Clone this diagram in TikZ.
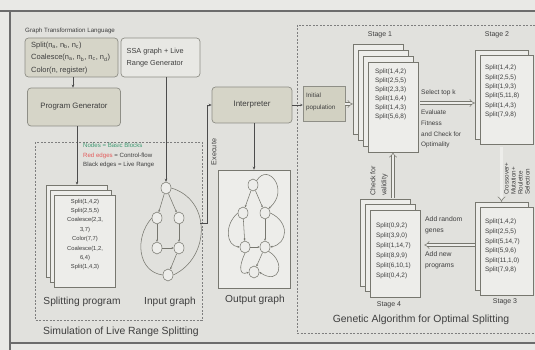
\documentclass[tikz,border=0pt]{standalone}
\usepackage{fontspec}
\setmainfont{Liberation Sans}
\usetikzlibrary{arrows.meta,shapes.geometric}
\definecolor{bgout}{HTML}{E9E9E6}
\definecolor{bgin}{HTML}{E1E1DD}
\definecolor{boxfill}{HTML}{D6D5C8}
\definecolor{boxline}{HTML}{8E8E86}
\definecolor{ssafill}{HTML}{E8E8E4}
\definecolor{initfill}{HTML}{D2D1C2}
\definecolor{pagefill}{HTML}{EDEDEA}
\definecolor{pageline}{HTML}{77776F}
\definecolor{txt}{HTML}{3E3E3E}
\definecolor{wirec}{HTML}{4C4C4C}
\definecolor{dashc}{HTML}{7E7E7E}
\definecolor{framec}{HTML}{6C6C6C}
\definecolor{greentxt}{HTML}{3E9A72}
\definecolor{redtxt}{HTML}{E35A5A}
\begin{document}
\begin{tikzpicture}[x=1pt,y=-1pt,
  gbox/.style={draw=boxline, fill=boxfill, rounded corners=3.5pt, line width=0.7pt, text=txt, inner sep=0pt},
  page/.style={draw=pageline, fill=pagefill, line width=0.5pt, inner sep=0pt},
  wire/.style={draw=wirec, line width=0.7pt},
  arr/.style={wire, -{Stealth[length=3pt,width=2.6pt]}},
  fat/.style={draw=pageline, line width=0.5pt, double=pagefill, double distance=2.2pt, -{Implies}},
  gnode/.style={ellipse, draw=pageline, fill=pagefill, line width=0.5pt, minimum width=10pt, minimum height=12pt, inner sep=0pt},
  gedge/.style={draw=pageline, line width=0.55pt},
  garr/.style={gedge, -{Stealth[length=2.2pt,width=2pt]}},
  lab/.style={text=txt, inner sep=0pt},
  dbox/.style={draw=dashc, line width=0.6pt, dash pattern=on 2pt off 1.5pt},
  stf/.style={font=\fontsize{6.4}{9}\selectfont},
  bigf/.style={font=\fontsize{10.2}{11}\selectfont}
]
\useasboundingbox (0,0) rectangle (535,350);
\fill[bgout] (0,0) rectangle (535,350);
\fill[bgin] (10,11) rectangle (535,343);
\draw[framec, line width=1.2pt] (0,11) -- (535,11);
\draw[framec, line width=1.2pt] (10,11) -- (10,350);
\draw[framec, line width=1.2pt] (10,343) -- (535,343);

% ---------- left part ----------
\node[lab, anchor=west, font=\fontsize{6.2}{7}\selectfont] (gtltitle) at (25,31) {Graph Transformation Language};
\node[gbox, minimum width=93pt, minimum height=39pt] (gtl) at (71.5,57.5) {};
\node[lab, anchor=west, align=left, font=\fontsize{7.5}{12.5}\selectfont] (gtlt) at (31,58)
  {Split(n\textsubscript{a}, n\textsubscript{b}, n\textsubscript{c})\\
   Coalesce(n\textsubscript{a}, n\textsubscript{b}, n\textsubscript{c}, n\textsubscript{d})\\
   Color(n, register)};
\node[gbox, fill=ssafill, minimum width=79pt, minimum height=39pt] (ssa) at (160.5,57.5) {};
\node[lab, anchor=west, align=left, font=\fontsize{7.3}{11.5}\selectfont] (ssat) at (126.5,57.5)
  {SSA graph + Live\\Range Generator};
\node[gbox, minimum width=93pt, minimum height=38pt, font=\fontsize{7.8}{9}\selectfont] (pg) at (74,107) {Program Generator};
\draw[arr] (gtl.south -| 73,0) -- (pg.north -| 73,0);

% simulation dashed box
\draw[dbox] (35,142) rectangle (202,320);
\node[lab, anchor=west, font=\fontsize{6.1}{7}\selectfont, text=greentxt] (leg1) at (83,145.5) {Nodes = Basic Blocks};
\node[lab, anchor=west, font=\fontsize{6.1}{7}\selectfont] (leg2) at (83,155.5) {\textcolor{redtxt}{Red edges} = Control-flow};
\node[lab, anchor=west, font=\fontsize{6.1}{7}\selectfont] (leg3) at (83,165) {Black edges = Live Range};

% splitting program stack
\node[page, minimum width=61pt, minimum height=92pt] (spc) at (76.5,231) {};
\node[page, minimum width=61pt, minimum height=92pt] (spb) at (80.5,236) {};
\node[page, minimum width=61pt, minimum height=92pt] (spa) at (84.5,241) {};
\node[lab, align=center, font=\fontsize{5.8}{9.4}\selectfont] (spt) at (85,234.5)
  {Split(1,4,2)\\Split(2,5,5)\\Coalesce(2,3,\\3,7)\\Color(7,7)\\Coalesce(1,2,\\6,4)\\Split(1,4,3)};
\draw[arr] (pg.south -| 77,0) -- (spc.north -| 77,0);

% input graph
\node[gnode] (ig1) at (166,188) {};
\node[gnode] (ig2) at (157,218) {};
\node[gnode] (ig3) at (179,218) {};
\node[gnode] (ig4) at (157,248) {};
\node[gnode] (ig5) at (179,248) {};
\node[gnode] (ig6) at (168,275) {};
\draw[garr] (ig1) -- (ig2);
\draw[garr] (ig1) -- (ig3);
\draw[garr] (ig2) -- (ig4);
\draw[garr] (ig3) -- (ig5);
\draw[garr] (ig4) -- (ig5);
\draw[garr] (ig5) -- (ig6);
\draw[gedge] (ig1.east) .. controls (212,200) and (210,258) .. (ig6.east);
\draw[gedge] (ig2.west) .. controls (134,238) and (138,272) .. (ig6.west);
\draw[arr] (ssa.south -| ig1.north) -- (ig1.north);

\node[lab, bigf] (splab) at (82,302) {Splitting program};
\node[lab, bigf] (iglab) at (170,302) {Input graph};
\node[lab, font=\fontsize{10.4}{11}\selectfont] (simlab) at (121,332) {Simulation of Live Range Splitting};

% ---------- middle ----------
\node[gbox, minimum width=80pt, minimum height=36pt, font=\fontsize{8}{9}\selectfont] (interp) at (252,105) {Interpreter};
\coordinate (ex) at (200,223);
\draw[arr] (ex) -- (207,223) |- (interp.west);
\node[lab, rotate=90, font=\fontsize{7.2}{8}\selectfont] (exlab) at (214,152) {Execute};

\node[draw=pageline, fill=pagefill, line width=0.6pt, minimum width=72pt, minimum height=118pt, inner sep=0pt] (ob) at (254,229) {};
\draw[arr] (interp.south -| ob.north) -- (ob.north);
\node[gnode] (og1) at (253,185) {};
\node[gnode] (og2) at (243,213) {};
\node[gnode] (og3) at (265,213) {};
\node[gnode] (og4) at (245,247) {};
\node[gnode] (og5) at (265,247) {};
\node[gnode] (og6) at (254,272) {};
\draw[garr] (og1) -- (og2);
\draw[garr] (og1) -- (og3);
\draw[garr] (og2) -- (og4);
\draw[garr] (og3) -- (og5);
\draw[garr] (og4) -- (og5);
\draw[garr] (og5) -- (og6);
\draw[garr] (og1.north east) .. controls (268,162) and (290,190) .. (og3.north east);
\draw[garr] (og3.east) .. controls (290,222) and (288,244) .. (og5.east);
\draw[garr] (og2.west) .. controls (224,225) and (226,246) .. (og4.west);
\draw[garr] (og4.south) .. controls (238,268) and (240,276) .. (og6.west);
\draw[garr] (og5.south east) .. controls (286,262) and (280,286) .. (og6.east);
\node[lab, bigf] (oglab) at (255,300) {Output graph};

% ---------- genetic algorithm ----------
\draw[dbox] (535,25) -- (297,25) -- (297,333) -- (535,333);
\node[lab, font=\fontsize{10.4}{11}\selectfont] (galab) at (421,320) {Genetic Algorithm for Optimal Splitting};

\node[draw=boxline, fill=initfill, line width=0.6pt, minimum width=42pt, minimum height=35pt, inner sep=0pt] (init) at (324,104) {};
\node[lab, anchor=west, align=left, font=\fontsize{6.3}{12.5}\selectfont] (initt) at (306,102) {Initial\\population};
\draw[arr, -{Stealth[length=2.5pt,width=2.5pt]}] (interp.east) -- (interp.east -| init.west);

% stage 1
\node[lab, font=\fontsize{7}{8}\selectfont] (st1) at (380,35) {Stage 1};
\node[page, minimum width=50pt, minimum height=90pt] (s1d) at (378,89) {};
\node[page, minimum width=50pt, minimum height=90pt] (s1c) at (383,95) {};
\node[page, minimum width=50pt, minimum height=90pt] (s1b) at (388,101) {};
\node[page, minimum width=50pt, minimum height=90pt] (s1a) at (393,107) {};
\node[lab, stf, anchor=north west, align=left] (s1t) at (375,69)
  {Split(1,4,2)\\Split(2,5,5)\\Split(2,3,3)\\Split(1,6,4)\\Split(1,4,3)\\Split(5,6,8)};
\draw[fat] (init.east) -- (init.east -| s1d.west);

% stage 2
\node[lab, font=\fontsize{7}{8}\selectfont] (st2) at (497,35) {Stage 2};
\node[page, minimum width=53pt, minimum height=89pt] (s2b) at (501.5,94.5) {};
\node[page, minimum width=53pt, minimum height=89pt] (s2a) at (506.5,99.5) {};
\node[lab, anchor=north west, align=left, font=\fontsize{6.4}{9.3}\selectfont] (s2t) at (485,65)
  {Split(1,4,2)\\Split(2,5,5)\\Split(1,9,3)\\Split(5,11,8)\\Split(1,4,3)\\Split(7,9,8)};
\draw[fat, shorten <=2pt] (s1a.east |- 0,103) -- (s2b.west |- 0,103);
\node[lab, anchor=west, font=\fontsize{6.6}{8}\selectfont] (selk) at (421,93) {Select top k};
\node[lab, anchor=north west, align=left, font=\fontsize{6.4}{10.7}\selectfont] (evalt) at (421,110)
  {Evaluate\\Fitness\\and Check for\\Optimality};

% stage 3
\node[page, minimum width=53pt, minimum height=88pt] (s3b) at (501.5,246) {};
\node[page, minimum width=53pt, minimum height=88pt] (s3a) at (506.5,251) {};
\node[lab, anchor=north west, align=left, font=\fontsize{6.4}{9.6}\selectfont] (s3t) at (485,219)
  {Split(1,4,2)\\Split(2,5,5)\\Split(5,14,7)\\Split(5,9,6)\\Split(11,1,0)\\Split(7,9,8)};
\node[lab, font=\fontsize{7}{8}\selectfont] (st3) at (505,302) {Stage 3};
\draw[fat, shorten <=3pt] (s3b.north |- s2a.south) -- (s3b.north);
\node[lab, rotate=90, anchor=north west, align=left, font=\fontsize{6.3}{7}\selectfont] (cmr) at (504,195)
  {Crossover+\\Mutation+\\Roulette\\Selection};

% stage 4
\node[page, minimum width=50pt, minimum height=87pt] (s4c) at (385,242.5) {};
\node[page, minimum width=50pt, minimum height=87pt] (s4b) at (390,248) {};
\node[page, minimum width=50pt, minimum height=87pt] (s4a) at (395,253.5) {};
\node[lab, anchor=north west, align=left, font=\fontsize{6.4}{10}\selectfont] (s4t) at (376,223)
  {Split(0,9,2)\\Split(3,9,0)\\Split(1,14,7)\\Split(8,9,9)\\Split(6,10,1)\\Split(0,4,2)};
\node[lab, font=\fontsize{7}{8}\selectfont] (st4) at (389,305) {Stage 4};
\draw[fat, shorten >=4pt] (s3b.west |- 0,245) -- (s4a.east |- 0,245);
\node[lab, anchor=north west, align=left, font=\fontsize{6.8}{11.5}\selectfont] (addg) at (425,216) {Add random\\genes};
\node[lab, anchor=north west, align=left, font=\fontsize{6.8}{11.5}\selectfont] (addp) at (425,251) {Add new\\programs};
\draw[fat, shorten <=1pt] (s1a.south |- s4c.north) -- (s1a.south);
\node[lab, rotate=90, anchor=north west, align=left, font=\fontsize{7}{11}\selectfont] (chk) at (370,196)
  {Check for\\validity};
\end{tikzpicture}
\end{document}
